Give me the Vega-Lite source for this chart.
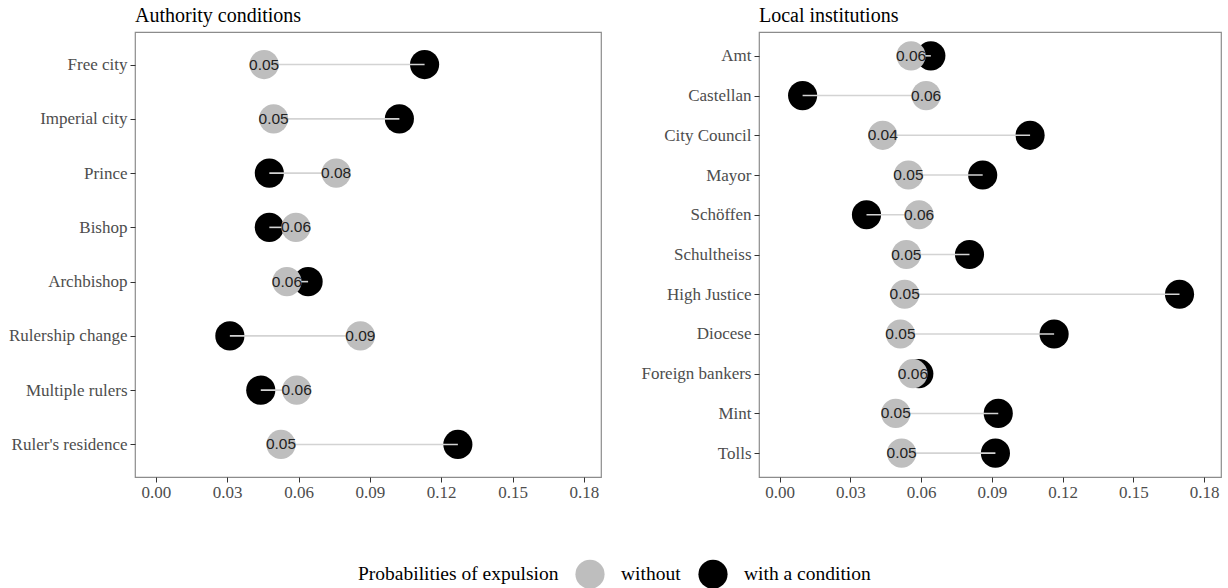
{
  "$schema": "https://vega.github.io/schema/vega-lite/v6.json",
  "padding": {"left": 7, "right": 6, "top": 5, "bottom": 5},
  "spacing": 38,
  "config": {
    "font": "Liberation Serif",
    "view": {"stroke": "#8c8c8c", "strokeWidth": 1.2},
    "axis": {"grid": false, "domain": false, "labelFont": "Liberation Serif", "labelFontSize": 17, "labelColor": "#4d4d4d", "tickColor": "#333333", "tickSize": 5, "labelPadding": 3},
    "legend": {"layout": {"bottom": {"anchor": "middle"}}}
  },
  "resolve": {"scale": {"color": "shared"}},
  "hconcat": [
    {
      "title": {"text": "Authority conditions", "anchor": "start", "frame": "group", "fontSize": 20, "font": "Liberation Serif", "fontWeight": "normal", "color": "black", "offset": 6},
      "width": 466,
      "height": 445,
      "data": {"values": [
        {"item": "Free city", "without": 0.0455, "with": 0.1130},
        {"item": "Imperial city", "without": 0.0495, "with": 0.1024},
        {"item": "Prince", "without": 0.0758, "with": 0.0477},
        {"item": "Bishop", "without": 0.0589, "with": 0.0477},
        {"item": "Archbishop", "without": 0.0551, "with": 0.0640},
        {"item": "Rulership change", "without": 0.0860, "with": 0.0311},
        {"item": "Multiple rulers", "without": 0.0592, "with": 0.0441},
        {"item": "Ruler's residence", "without": 0.0526, "with": 0.1270}
      ]},
      "encoding": {"y": {"field": "item", "type": "nominal", "sort": null, "title": null, "scale": {"type": "point", "padding": 0.6}}},
      "layer": [
        {"mark": {"type": "circle", "size": 850, "opacity": 1},
         "encoding": {
           "x": {"field": "with", "type": "quantitative", "title": null, "scale": {"domain": [-0.0088, 0.1872], "nice": false, "zero": false}, "axis": {"values": [0, 0.03, 0.06, 0.09, 0.12, 0.15, 0.18], "format": ".2f", "labelPadding": 2}},
           "color": {"datum": "with a condition", "type": "nominal", "scale": {"domain": ["without", "with a condition"], "range": ["#bebebe", "#000000"]},
             "legend": {"title": "Probabilities of expulsion", "orient": "bottom", "direction": "horizontal", "titleOrient": "left", "titlePadding": 16, "titleLimit": 500, "labelLimit": 300, "symbolType": "circle", "symbolSize": 850, "symbolStrokeWidth": 0, "symbolOpacity": 1, "labelFont": "Liberation Serif", "labelFontSize": 19.5, "titleFont": "Liberation Serif", "titleFontSize": 19.5, "titleFontWeight": "normal", "labelColor": "black", "titleColor": "black", "offset": 58, "columnPadding": 17, "labelOffset": 16}}
         }},
        {"mark": {"type": "rule", "color": "#d3d3d3", "strokeWidth": 1.6},
         "encoding": {"x": {"field": "without", "type": "quantitative", "title": null}, "x2": {"field": "with"}}},
        {"mark": {"type": "circle", "size": 850, "opacity": 1},
         "encoding": {"x": {"field": "without", "type": "quantitative", "title": null}, "color": {"datum": "without", "type": "nominal"}}},
        {"mark": {"type": "text", "font": "Liberation Sans", "fontSize": 15.5, "color": "#222222"},
         "encoding": {"x": {"field": "without", "type": "quantitative", "title": null}, "text": {"field": "without", "type": "quantitative", "format": ".2f"}}}
      ]
    },
    {
      "title": {"text": "Local institutions", "anchor": "start", "frame": "group", "fontSize": 20, "font": "Liberation Serif", "fontWeight": "normal", "color": "black", "offset": 6},
      "width": 462,
      "height": 445,
      "data": {"values": [
        {"item": "Amt", "without": 0.0557, "with": 0.0641},
        {"item": "Castellan", "without": 0.0621, "with": 0.0097},
        {"item": "City Council", "without": 0.0437, "with": 0.1062},
        {"item": "Mayor", "without": 0.0546, "with": 0.0861},
        {"item": "Schöffen", "without": 0.0591, "with": 0.0368},
        {"item": "Schultheiss", "without": 0.0537, "with": 0.0805},
        {"item": "High Justice", "without": 0.0530, "with": 0.1696},
        {"item": "Diocese", "without": 0.0512, "with": 0.1164},
        {"item": "Foreign bankers", "without": 0.0565, "with": 0.0590},
        {"item": "Mint", "without": 0.0492, "with": 0.0927},
        {"item": "Tolls", "without": 0.0517, "with": 0.0915}
      ]},
      "encoding": {"y": {"field": "item", "type": "nominal", "sort": null, "title": null, "scale": {"type": "point", "padding": 0.6}}},
      "layer": [
        {"mark": {"type": "circle", "size": 850, "opacity": 1},
         "encoding": {
           "x": {"field": "with", "type": "quantitative", "title": null, "scale": {"domain": [-0.0088, 0.1872], "nice": false, "zero": false}, "axis": {"values": [0, 0.03, 0.06, 0.09, 0.12, 0.15, 0.18], "format": ".2f", "labelPadding": 2}},
           "color": {"datum": "with a condition", "type": "nominal"}
         }},
        {"mark": {"type": "rule", "color": "#d3d3d3", "strokeWidth": 1.6},
         "encoding": {"x": {"field": "without", "type": "quantitative", "title": null}, "x2": {"field": "with"}}},
        {"mark": {"type": "circle", "size": 850, "opacity": 1},
         "encoding": {"x": {"field": "without", "type": "quantitative", "title": null}, "color": {"datum": "without", "type": "nominal"}}},
        {"mark": {"type": "text", "font": "Liberation Sans", "fontSize": 15.5, "color": "#222222"},
         "encoding": {"x": {"field": "without", "type": "quantitative", "title": null}, "text": {"field": "without", "type": "quantitative", "format": ".2f"}}}
      ]
    }
  ]
}
